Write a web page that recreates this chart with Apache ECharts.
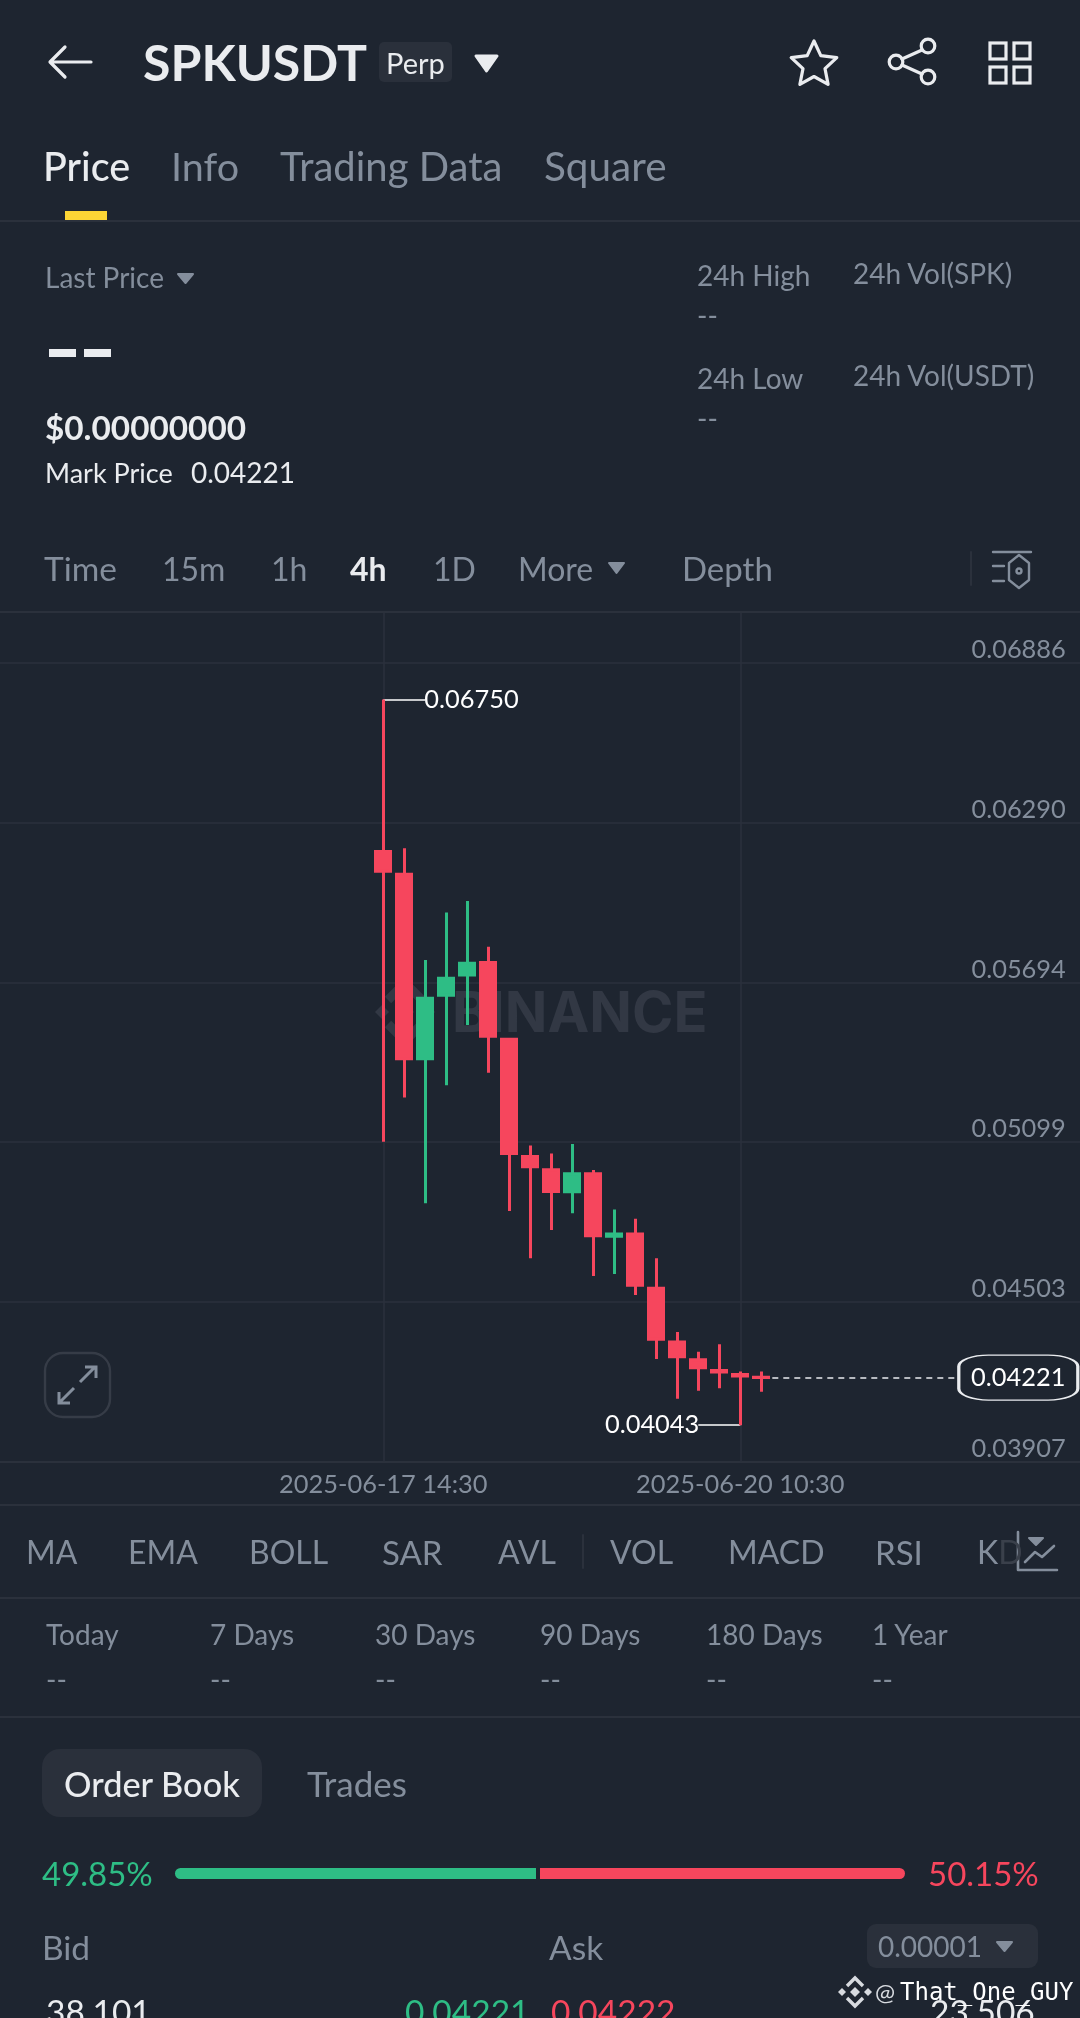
<!DOCTYPE html>
<html><head><meta charset="utf-8">
<script src="https://cdn.jsdelivr.net/npm/echarts@6/dist/echarts.min.js"></script>
<style>
html,body{margin:0;padding:0;background:#1e2530;width:1080px;height:2018px;overflow:hidden;font-family:Lato,sans-serif}
#chart{position:absolute;left:0;top:0;width:1080px;height:2018px}
#ui{position:absolute;left:0;top:0;width:1080px;height:2018px;pointer-events:none;overflow:hidden}
#ui svg{position:absolute;left:0;top:0}
.t{position:absolute;white-space:nowrap;line-height:1;transform:translateY(-50%);color:#848e9c;font-size:32px}
.w{color:#eaecef}
.s{font-size:28px}
.tab{font-size:39.5px}
.hl{position:absolute;left:0;width:1080px;height:2px;background:#2b313c}
.box{position:absolute;background:#2a303b}
</style></head><body>
<div id="chart"></div>
<div id="ui">
<div class="hl" style="top:220px"></div>
<div class="hl" style="top:611px"></div>
<div class="hl" style="top:1504px"></div>
<div class="hl" style="top:1597px"></div>
<div class="hl" style="top:1716px"></div>
<div class="box" style="left:379px;top:42px;width:73px;height:40px;border-radius:5px"></div>
<div class="box" style="left:65px;top:211px;width:42px;height:9px;background:#fcd535"></div>
<div class="box" style="left:42px;top:1749px;width:220px;height:68px;border-radius:18px"></div>
<div class="box" style="left:867px;top:1924px;width:171px;height:44px;border-radius:9px"></div>
<div class="box" style="left:175px;top:1868px;width:361px;height:11px;background:#2ebd85;border-radius:6px 0 0 6px"></div>
<div class="box" style="left:540px;top:1868px;width:365px;height:11px;background:#f6465d;border-radius:0 6px 6px 0"></div>

<svg width="1080" height="2018" fill="none" stroke-linecap="round" stroke-linejoin="round">
 <g stroke="#eaecef" stroke-width="3.2">
  <path d="M91 62H51M65 47L50 62L65 77"/>
  <path d="M814 41L820.8 55.7L836.8 57.6L825 68.6L828.1 84.4L814 76.5L799.9 84.4L803 68.6L791.2 57.6L807.2 55.7Z"/>
  <circle cx="928" cy="46" r="6.8"/><circle cx="896" cy="62" r="6.8"/><circle cx="928" cy="77" r="6.8"/>
  <path d="M922 50L902 59M902 65L922 74"/>
  <g stroke-linejoin="miter"><rect x="990" y="43" width="16" height="16"/><rect x="1014" y="43" width="16" height="16"/><rect x="990" y="67" width="16" height="16"/><rect x="1014" y="67" width="16" height="16"/></g>
 </g>
 <path d="M476 56H497L486.5 71Z" fill="#eaecef" stroke="#eaecef" stroke-width="3"/>
 <g fill="#848e9c" stroke="#848e9c" stroke-width="2">
  <path d="M178 274H193L185.5 283Z"/>
  <path d="M609 563H624L616.5 573Z"/>
  <path d="M997 1942H1012L1004.5 1951Z"/>
  <path d="M1029 1538H1043L1036 1545Z"/>
 </g>
 <path d="M971 552V585" stroke="#2b313c" stroke-width="2"/>
 <g stroke="#848e9c" stroke-width="2.4">
  <path d="M993 552H1031M993 566H1004M993 581H1004"/>
  <path d="M1019 555L1029 563V580L1019 588L1009 580V563Z"/><circle cx="1019" cy="571" r="2.5"/>
 </g>
 <rect x="45" y="1353" width="65" height="64" rx="18" stroke="#363c47" stroke-width="2.4"/>
 <g stroke="#848e9c" stroke-width="3" stroke-linecap="butt" stroke-linejoin="miter"><path d="M80 1382L95 1367M85 1367H96V1378M74 1388L59 1403M59 1392V1403H70"/></g>
 <path d="M583 1535V1568" stroke="#2b313c" stroke-width="2"/>
 <g stroke="#848e9c" stroke-width="2.6"><path d="M1018 1532V1570H1057"/><path d="M1025 1562L1035 1552L1042 1557L1054 1546"/></g>
 <g fill="#d8dbe0"><path d="M855 1987L860 1992L855 1997L850 1992Z"/><path d="M842 1988L846 1992L842 1996L838 1992Z"/><path d="M868 1988L872 1992L868 1996L864 1992Z"/></g>
 <path d="M847 1986L855 1978L863 1986M847 1998L855 2006L863 1998" stroke="#d8dbe0" stroke-width="3.4" stroke-linecap="butt" stroke-linejoin="miter"/>
 <rect x="49" y="349" width="27" height="8" fill="#eaecef"/><rect x="84" y="349" width="27" height="8" fill="#eaecef"/>
</svg>

<span class="t w" style="left:143px;top:62px;font-size:50px;font-weight:700">SPKUSDT</span>
<span class="t w" style="left:386px;top:62px;font-size:29px">Perp</span>
<span class="t w tab" style="left:43px;top:166px;font-weight:500">Price</span>
<span class="t tab" style="left:171px;top:166px">Info</span>
<span class="t tab" style="left:280px;top:166px;font-size:40px">Trading Data</span>
<span class="t tab" style="left:544px;top:166px;font-size:40.5px">Square</span>

<span class="t s" style="left:45px;top:277px">Last Price</span>
<span class="t w" style="left:45px;top:428px;font-size:33.3px;font-weight:700">$0.00000000</span>
<span class="t s w" style="left:45px;top:472px;font-size:27px">Mark Price</span>
<span class="t s w" style="left:191px;top:472px">0.04221</span>
<span class="t s" style="left:697px;top:275px">24h High</span>
<span class="t s" style="left:697px;top:315px">--</span>
<span class="t s" style="left:697px;top:378px">24h Low</span>
<span class="t s" style="left:697px;top:418px">--</span>
<span class="t s" style="left:853px;top:273px">24h Vol(SPK)</span>
<span class="t s" style="left:853px;top:375px">24h Vol(USDT)</span>

<span class="t" style="left:44px;top:569px;font-size:33.5px">Time</span>
<span class="t" style="left:162px;top:569px">15m</span>
<span class="t" style="left:271px;top:569px">1h</span>
<span class="t w" style="left:350px;top:569px;font-weight:700">4h</span>
<span class="t" style="left:433px;top:569px">1D</span>
<span class="t" style="left:518px;top:569px">More</span>
<span class="t" style="left:682px;top:568px;font-size:33px">Depth</span>

<span class="t" style="left:26px;top:1552px">MA</span>
<span class="t" style="left:128px;top:1552px">EMA</span>
<span class="t" style="left:249px;top:1552px">BOLL</span>
<span class="t" style="left:382px;top:1552px;font-size:33px">SAR</span>
<span class="t" style="left:498px;top:1552px">AVL</span>
<span class="t" style="left:610px;top:1552px">VOL</span>
<span class="t" style="left:728px;top:1552px">MACD</span>
<span class="t" style="left:875px;top:1552px;font-size:33px">RSI</span>
<span class="t" style="left:977px;top:1552px">K<span style="color:#3a404b">D</span></span>

<span class="t s" style="left:46px;top:1634px">Today</span>
<span class="t s" style="left:210px;top:1634px">7 Days</span>
<span class="t s" style="left:375px;top:1634px">30 Days</span>
<span class="t s" style="left:540px;top:1634px">90 Days</span>
<span class="t s" style="left:706px;top:1634px">180 Days</span>
<span class="t s" style="left:872px;top:1634px">1 Year</span>
<span class="t s" style="left:46px;top:1679px">--</span>
<span class="t s" style="left:210px;top:1679px">--</span>
<span class="t s" style="left:375px;top:1679px">--</span>
<span class="t s" style="left:540px;top:1679px">--</span>
<span class="t s" style="left:706px;top:1679px">--</span>
<span class="t s" style="left:872px;top:1679px">--</span>

<span class="t w" style="left:64px;top:1784px;font-size:34.3px;font-weight:500">Order Book</span>
<span class="t" style="left:307px;top:1783px;font-size:35px">Trades</span>
<span class="t" style="left:42px;top:1873px;font-size:33px;color:#2ebd85">49.85%</span>
<span class="t" style="left:928px;top:1873px;font-size:33px;color:#f6465d">50.15%</span>
<span class="t" style="left:42px;top:1948px;font-size:33.5px">Bid</span>
<span class="t" style="left:549px;top:1948px;font-size:33.5px">Ask</span>
<span class="t s" style="left:878px;top:1946px">0.00001</span>
<span class="t w" style="left:46px;top:2012px;font-size:33.5px">38,101</span>
<span class="t" style="left:405px;top:2012px;font-size:33.5px;color:#2ebd85">0.04221</span>
<span class="t" style="left:551px;top:2012px;font-size:33.5px;color:#f6465d">0.04222</span>
<span class="t w" style="left:930px;top:2012px;font-size:33.5px">23,506</span>
<span class="t" style="left:875px;top:1992px;font-size:24px;color:#d8dbe0">@</span>
<span class="t" style="left:900px;top:1992px;font-size:24px;color:#fff;font-family:'DejaVu Sans Mono',monospace">That_One_GUY</span>
</div>

<script>
// Candle times, one per 4h bar
const candleTimes = ['2025-06-17 14:30','2025-06-17 18:30','2025-06-17 22:30','2025-06-18 02:30','2025-06-18 06:30','2025-06-18 10:30','2025-06-18 14:30','2025-06-18 18:30','2025-06-18 22:30','2025-06-19 02:30','2025-06-19 06:30','2025-06-19 10:30','2025-06-19 14:30','2025-06-19 18:30','2025-06-19 22:30','2025-06-20 02:30','2025-06-20 06:30','2025-06-20 10:30','2025-06-20 14:30'];
const opens  = [0.06183,0.06098,0.05410,0.05647,0.05722,0.05769,0.05483,0.05045,0.04996,0.04914,0.04981,0.04748,0.04756,0.04554,0.04353,0.04287,0.04247,0.04232,0.04222];
const closes = [0.06109,0.05410,0.05636,0.05710,0.05766,0.05494,0.05057,0.05007,0.04915,0.04981,0.04750,0.04756,0.04565,0.04364,0.04298,0.04257,0.04242,0.04227,0.04221];
const lows   = [0.05100,0.05265,0.04871,0.05311,0.05536,0.05358,0.04842,0.04666,0.04771,0.04834,0.04600,0.04607,0.04529,0.04290,0.04142,0.04172,0.04181,0.04043,0.04168];
const highs  = [0.06750,0.06195,0.05778,0.05955,0.05998,0.05828,0.05488,0.05086,0.05057,0.05092,0.04995,0.04848,0.04813,0.04666,0.04391,0.04317,0.04345,0.04243,0.04243];
const yTicks = [0.03907,0.04503,0.05099,0.05694,0.06290,0.06886];
const shownTimes = ['2025-06-17 14:30','2025-06-20 10:30'];
const lastPrice = 0.04221, highPrice = 0.06750, lowPrice = 0.04043;
const padBefore = 18, padAfter = 15;

const categories = [...Array(padBefore).fill(''), ...candleTimes, ...Array(padAfter).fill('')];
const blank = ['-','-','-','-'];
const ohlc = [...Array(padBefore).fill(blank), ...candleTimes.map((_, i) => [opens[i], closes[i], lows[i], highs[i]]), ...Array(padAfter).fill(blank)];
const at = i => i + padBefore;
const BG = '#1e2530', GRID = '#2b313c', GREY = '#848e9c', WHITE = '#eaecef';
const labelFont = {fontFamily:'Lato', fontSize:25.4};

const chart = echarts.init(document.getElementById('chart'), null, {renderer:'canvas'});
const wmColor = '#323844';
const diamond = (cx, cy, r) => ({type:'polygon', z:1, silent:true, shape:{points:[[cx,cy-r],[cx+r,cy],[cx,cy+r],[cx-r,cy]]}, style:{fill:wmColor}});
const chevron = (pts) => ({type:'polyline', z:1, silent:true, shape:{points:pts}, style:{stroke:wmColor, lineWidth:9, fill:null}});
chart.setOption({
  animation:false,
  backgroundColor:BG,
  grid:{left:-5.2, width:1092, top:611, height:850.7, containLabel:false, outerBoundsMode:'none'},
  xAxis:{
    type:'category', data:categories, boundaryGap:true,
    axisLine:{show:true, lineStyle:{color:GRID, width:2}},
    axisTick:{show:false}, splitLine:{show:false},
    axisLabel:{color:GREY, ...labelFont, margin:11, hideOverlap:false,
      interval:(i, v) => shownTimes.includes(v)}
  },
  yAxis:{
    type:'value', position:'right', min:0.03907, max:0.0708, scale:true,
    axisLine:{show:false}, axisTick:{show:false, customValues:yTicks},
    splitLine:{show:true, lineStyle:{color:GRID, width:1.5}},
    axisLabel:{inside:true, customValues:yTicks, color:GREY, ...labelFont, margin:21, verticalAlign:'bottom', lineHeight:26, padding:[0,0,0,0], showMinLabel:true, showMaxLabel:true,
      formatter:v => v.toFixed(5)}
  },
  graphic:[
    {type:'text', z:1, silent:true, x:452, y:1015, style:{text:'BINANCE', fontFamily:'Inter', fontWeight:700, fontSize:56, fill:wmColor, verticalAlign:'middle'}},
    diamond(405,1012,9), diamond(382,1012,7), diamond(428,1012,7),
    chevron([[388,1000],[405,983],[422,1000]]), chevron([[388,1024],[405,1041],[422,1024]])
  ],
  series:[{
    type:'candlestick', data:ohlc, barWidth:15.5, z:5,
    itemStyle:{color:'#2ebd85', color0:'#f6465d', borderColor:'#2ebd85', borderColor0:'#f6465d', borderWidth:3},
    markLine:{
      silent:true, symbol:'none', animation:false, precision:5, z:3,
      data:[
        {xAxis:at(0), lineStyle:{color:GRID, width:1.5, type:'solid'}, label:{show:false}},
        {xAxis:at(17), lineStyle:{color:GRID, width:1.5, type:'solid'}, label:{show:false}},
        [{coord:[at(18), lastPrice], lineStyle:{color:WHITE, width:1.6, type:[6,5]}, label:{show:false}}, {coord:[at(18)+10, lastPrice]}],
        [{coord:[at(0), highPrice], lineStyle:{color:'#fff', width:1.5, type:'solid'}, label:{show:true, position:'end', distance:-1, color:'#fff', ...labelFont, formatter:() => highPrice.toFixed(5)}}, {coord:[at(2), highPrice]}],
        [{coord:[at(17), lowPrice], lineStyle:{color:'#fff', width:1.5, type:'solid'}, label:{show:true, position:'end', distance:-1, color:'#fff', ...labelFont, formatter:() => lowPrice.toFixed(5)}}, {coord:[at(15), lowPrice]}]
      ]
    },
    markPoint:{
      silent:true, animation:false, z:8,
      data:[{coord:[at(18)+12, lastPrice], symbol:'roundRect', symbolSize:[119,45], symbolOffset:[5,0],
        itemStyle:{color:BG, borderColor:WHITE, borderWidth:2},
        label:{show:true, position:'inside', color:'#fff', ...labelFont, formatter:() => lastPrice.toFixed(5)}}]
    }
  }]
});
</script>
</body></html>
